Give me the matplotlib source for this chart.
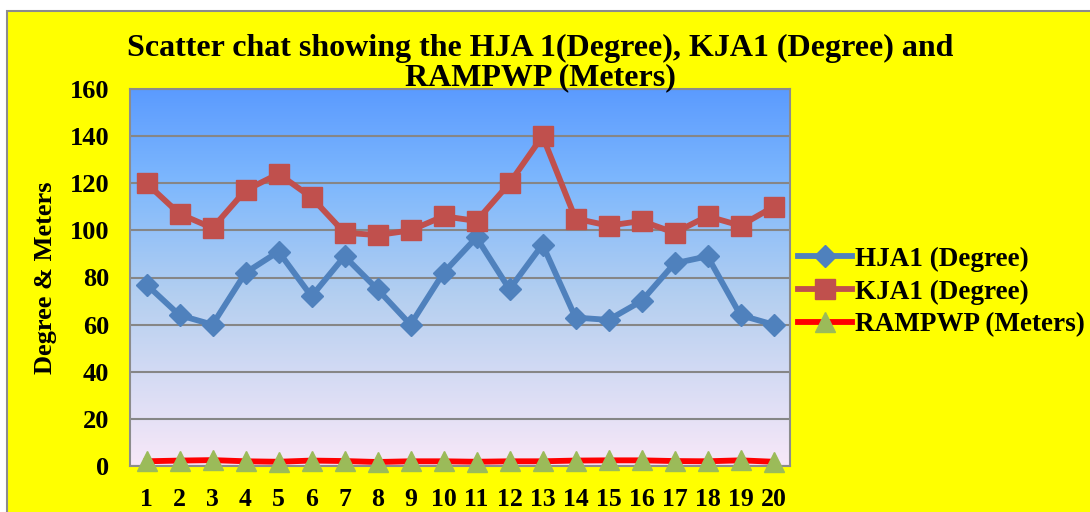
import numpy as np
import matplotlib
matplotlib.use("Agg")
import matplotlib.pyplot as plt
from matplotlib.patches import Rectangle
from matplotlib.colors import LinearSegmentedColormap

# data
samples = list(range(1, 21))
hja1 = [77, 64, 60, 82, 91, 72, 89, 75, 60, 82, 97, 75, 94, 63, 62, 70, 86, 89, 64, 60]
kja1 = [120, 107, 101, 117, 124, 114, 99, 98, 100, 106, 104, 120, 140, 105, 102, 104, 99, 106, 102, 110]
rampwp = [2.0, 2.3, 2.5, 2.0, 1.8, 2.3, 2.1, 1.7, 2.0, 2.0, 1.8, 2.0, 2.0, 2.3, 2.4, 2.4, 2.1, 2.0, 2.4, 1.8]
y_ticks = [0, 20, 40, 60, 80, 100, 120, 140, 160]

plt.rcParams['font.family'] = ['Liberation Serif', 'DejaVu Serif']
plt.rcParams['font.weight'] = 'bold'

W, H = 1090, 512
fig = plt.figure(figsize=(W / 100, H / 100), dpi=100, facecolor='white')

# yellow chart area with gray frame
fig.add_artist(Rectangle((7 / W, -0.01), 1.0, 1 - 11 / H + 0.01, transform=fig.transFigure,
                         facecolor='#FFFF00', edgecolor='#8C8C8C', linewidth=1.5, zorder=0))

ax = fig.add_axes([130 / W, 1 - 466 / H, 660 / W, 377 / H])

# gradient plot background
cmap = LinearSegmentedColormap.from_list('bg', [(0.0, '#F8E8F8'), (0.45, '#B4CFF0'),
                                                (0.75, '#7EB8FD'), (1.0, '#5B9BFF')])
grad = np.linspace(0, 1, 256).reshape(-1, 1)
ax.imshow(grad, extent=[0, 1, 0, 1], transform=ax.transAxes, origin='lower',
          aspect='auto', cmap=cmap, zorder=0)

ax.set_xlim(0.5, 20.5)
ax.set_ylim(0, 160)
ax.set_yticks(y_ticks)
ax.set_xticks(samples)
ax.grid(axis='y', color='#868686', linewidth=1.5, zorder=1)
ax.tick_params(axis='y', length=0, labelsize=19, pad=15)
ax.tick_params(axis='x', length=0, labelsize=18.5, pad=16)
for lab in ax.get_xticklabels() + ax.get_yticklabels():
    lab.set_fontweight('bold')
for s in ax.spines.values():
    s.set_color('#8C8C8C')
    s.set_linewidth(1.5)

ax.plot(samples, hja1, color='#4F81BD', linewidth=4.2, marker='D', markersize=11.5,
        label='HJA1 (Degree)', zorder=3, clip_on=False)
ax.plot(samples, kja1, color='#C0504D', linewidth=4.2, marker='s', markersize=14.5,
        label='KJA1 (Degree)', zorder=3, clip_on=False)
ax.plot(samples, rampwp, color='#FF0000', linewidth=4.2, marker='^', markersize=15,
        markerfacecolor='#9BBB59', markeredgecolor='#9BBB59',
        label='RAMPWP (Meters)', zorder=4, clip_on=False)

fig.text(540 / W, 1 - 63 / H,
         'Scatter chat showing the HJA 1(Degree), KJA1 (Degree) and\nRAMPWP (Meters)',
         ha='center', va='center', fontsize=23, fontweight='bold', linespacing=1.0)
fig.text(46 / W, 1 - 278 / H, 'Degree & Meters', rotation=90, ha='center', va='center',
         fontsize=19, fontweight='bold')

leg = ax.legend(loc='center left', bbox_to_anchor=(798 / W, 1 - 292 / H),
                bbox_transform=fig.transFigure, frameon=False, fontsize=19.5,
                handlelength=2.0, handletextpad=0.1, labelspacing=0.28, borderpad=0,
                borderaxespad=0)
for t in leg.get_texts():
    t.set_fontweight('bold')

fig.savefig('out.png', dpi=100, facecolor=fig.get_facecolor())
